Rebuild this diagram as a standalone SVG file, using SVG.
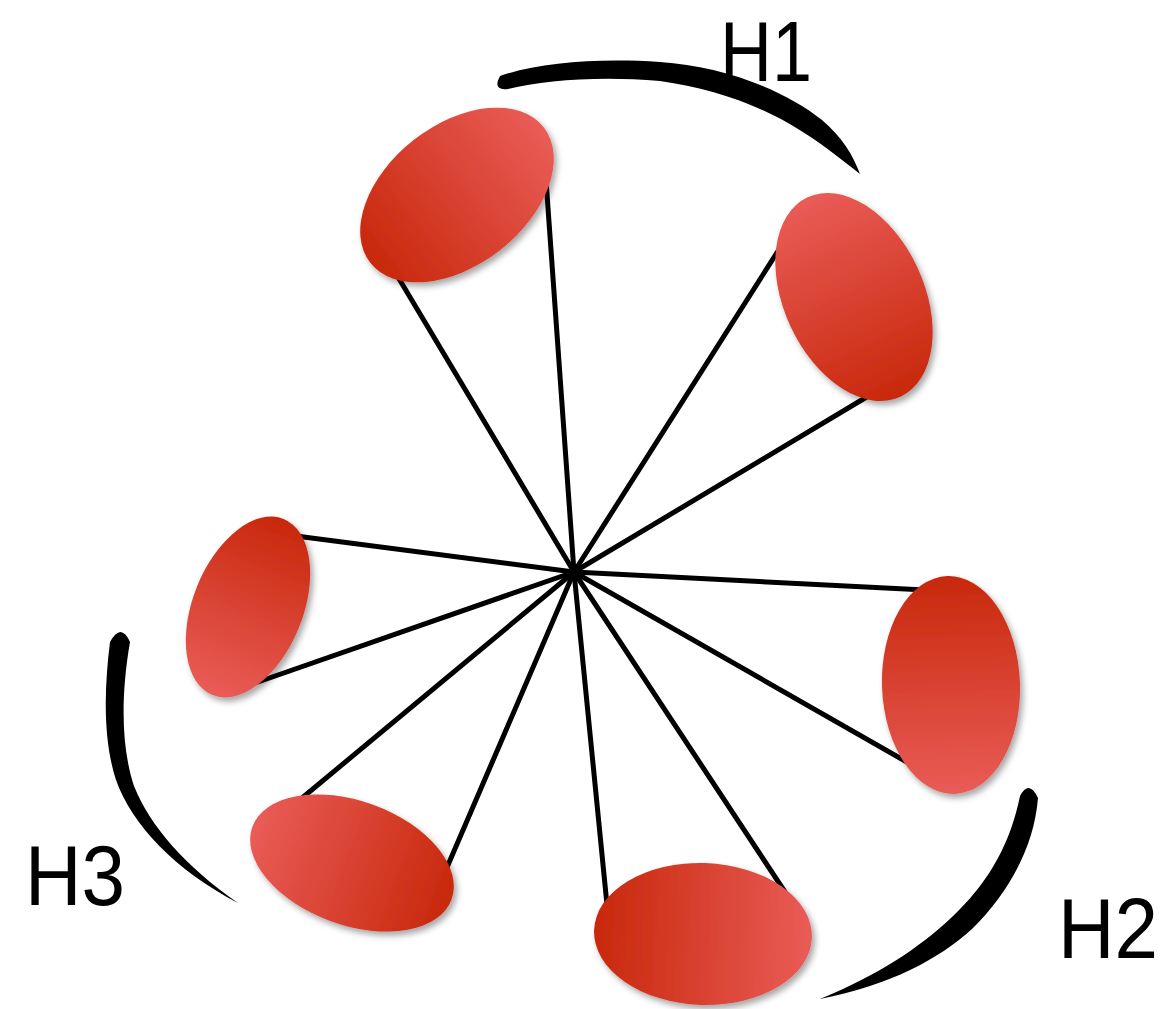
<svg xmlns="http://www.w3.org/2000/svg" width="1168" height="1009" viewBox="0 0 1168 1009">
<style>
.bg{fill:#ffffff}
.conn line{stroke:#000;stroke-width:5;stroke-linecap:round}
.node{filter:url(#sh)}
.brush{fill:#000}
.lbl{font-family:"Liberation Sans","DejaVu Sans",sans-serif;font-size:86px;fill:#000}
</style>
<defs>
<linearGradient id="gDL" x1="0" y1="0" x2="1" y2="0"><stop offset="0" stop-color="#c8280b"/><stop offset="1" stop-color="#e95c57"/></linearGradient>
<linearGradient id="gLD" x1="0" y1="0" x2="1" y2="0"><stop offset="0" stop-color="#e95c57"/><stop offset="1" stop-color="#c8280b"/></linearGradient>
<linearGradient id="gV" x1="0" y1="0" x2="0" y2="1"><stop offset="0" stop-color="#c8280b"/><stop offset="1" stop-color="#e95c57"/></linearGradient>
<filter id="sh" x="-20%" y="-20%" width="140%" height="140%"><feDropShadow dx="3" dy="4" stdDeviation="3" flood-color="#000" flood-opacity="0.35"/></filter>
</defs>
<rect class="bg" width="1168" height="1009"/>
<g id="connectors" class="conn">
<line x1="574" y1="572" x2="395" y2="272"/>
<line x1="574" y1="572" x2="546" y2="180"/>
<line x1="574" y1="572" x2="785" y2="240"/>
<line x1="574" y1="572" x2="875" y2="392"/>
<line x1="574" y1="572" x2="265" y2="532"/>
<line x1="574" y1="572" x2="255" y2="683"/>
<line x1="574" y1="572" x2="925" y2="590"/>
<line x1="574" y1="572" x2="912" y2="765"/>
<line x1="574" y1="572" x2="290" y2="808"/>
<line x1="574" y1="572" x2="445" y2="872"/>
<line x1="574" y1="572" x2="608" y2="915"/>
<line x1="574" y1="572" x2="785" y2="892"/>
</g>
<g id="node-top-left" class="node"><ellipse cx="0" cy="0" rx="110" ry="70" fill="url(#gDL)" transform="translate(457 195) rotate(-38)"/></g>
<g id="node-top-right" class="node"><ellipse cx="0" cy="0" rx="110" ry="70" fill="url(#gLD)" transform="translate(854 297) rotate(65)"/></g>
<g id="node-left" class="node"><ellipse cx="0" cy="0" rx="95" ry="55" fill="url(#gDL)" transform="translate(248 607) rotate(112)"/></g>
<g id="node-right" class="node"><ellipse cx="0" cy="0" rx="69" ry="109" fill="url(#gV)" transform="translate(951 685) rotate(-2)"/></g>
<g id="node-bottom-left" class="node"><ellipse cx="0" cy="0" rx="106" ry="62" fill="url(#gLD)" transform="translate(352 863) rotate(20)"/></g>
<g id="node-bottom" class="node"><ellipse cx="0" cy="0" rx="109" ry="71" fill="url(#gDL)" transform="translate(703 934) rotate(2)"/></g>
<g id="arc-H1">
<path class="brush" d="M500,76 C540,62 600,58 660,62 C720,66 782,88 822,120 C842,137 853,155 860,174 C840,158 818,141 798,129 C758,104 710,88 660,81 C600,76 545,80 508,89 Q492,91 500,76 Z"/>
<text class="lbl" x="720" y="81" textLength="92" lengthAdjust="spacingAndGlyphs">H1</text>
</g>
<g id="arc-H2">
<path class="brush" d="M1038,798 C1034,848 1008,893 973,928 C938,960 890,985 820,999 C878,975 918,949 952,917 C988,883 1010,845 1020,796 Q1029,779 1038,798 Z"/>
<text class="lbl" x="1058" y="958" textLength="100" lengthAdjust="spacingAndGlyphs">H2</text>
</g>
<g id="arc-H3">
<path class="brush" d="M110,642 C104,690 103,740 116,780 C132,825 175,870 238,903 C185,866 150,826 134,786 C122,750 120,700 130,642 Q121,622 110,642 Z"/>
<text class="lbl" x="25" y="905" textLength="100" lengthAdjust="spacingAndGlyphs">H3</text>
</g>
</svg>
